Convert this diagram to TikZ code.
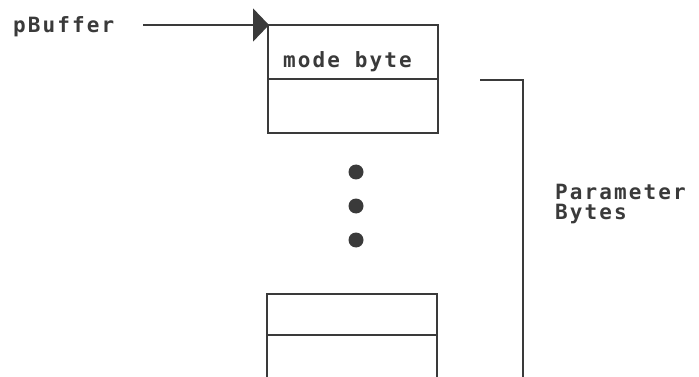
\documentclass[tikz,border=0pt]{standalone}
\usepackage{fontspec}
\newfontfamily\pixfont[LetterSpace=10]{DejaVu Sans Mono Bold}
\usetikzlibrary{arrows.meta}
\definecolor{ink}{HTML}{3A3A3A}
\tikzset{
  lbl/.style={font=\pixfont\fontsize{21}{21}\selectfont, text=ink, inner sep=0pt, anchor=base west},
  cell/.style={draw=ink, line width=1.8pt, minimum width=170pt, inner sep=0pt, outer sep=0pt, rectangle},
  wire/.style={draw=ink, line width=1.8pt},
  dot/.style={circle, fill=ink, inner sep=0pt, minimum size=15pt},
}
\begin{document}
\begin{tikzpicture}[x=1pt,y=-1pt]
\useasboundingbox (0,0) rectangle (699,377);
\clip (0,0) rectangle (699,377);
% text
\node[lbl] (pb) at (13,33) {pBuffer};
\node[lbl] (par) at (555,200) {Parameter};
\node[lbl] (byt) at (555,219) {Bytes};
% top box
\node[cell, minimum height=54pt] (c1) at (353,52) {};
\node[cell, minimum height=54pt] (c2) at (353,106) {};
\node[lbl] (mb) at (283,68) {mode byte};
% dots
\node[dot] (d1) at (356,172) {};
\node[dot] (d2) at (356,206) {};
\node[dot] (d3) at (356,240) {};
% bottom box
\node[cell, minimum height=41pt] (c3) at (352,314.5) {};
\coordinate (c4l) at (267,400);
\coordinate (c4r) at (437,400);
\draw[wire] (c4l) -- (c3.south west) -- (c3.south east) -- (c4r);
% pointer arrow
\coordinate (ps) at (143,25);
\draw[wire, -{Triangle[length=16pt,width=33pt]}, shorten >=-1pt] (ps) -- (c1.north west);
% bracket
\coordinate (b1) at (480,80);
\coordinate (b2) at (523,80);
\coordinate (b3) at (523,400);
\draw[wire] (b1) -- (b2) -- (b3);
\end{tikzpicture}
\end{document}
